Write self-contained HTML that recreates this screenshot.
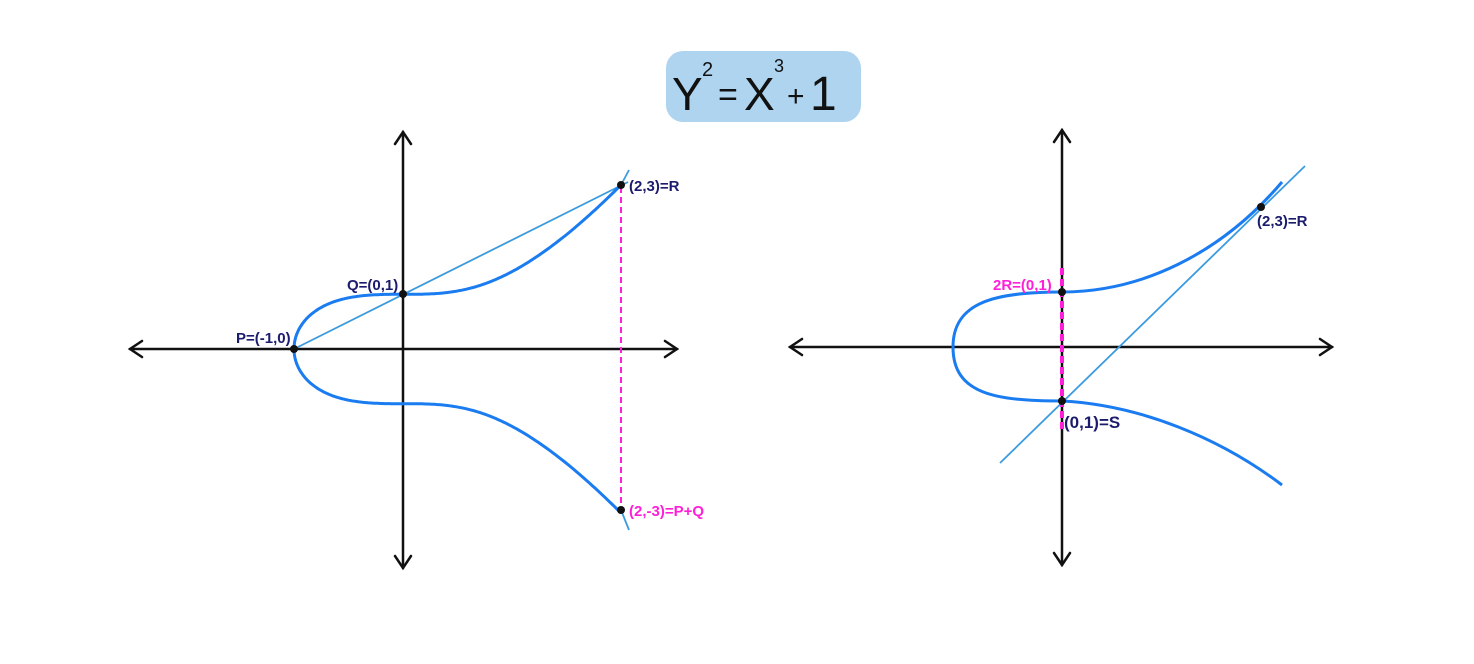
<!DOCTYPE html>
<html><head><meta charset="utf-8"><style>
body{margin:0;background:#fff;}
svg{display:block}
text{font-family:"Liberation Sans",sans-serif;}
</style></head><body>
<svg id="s" width="1474" height="664" xmlns="http://www.w3.org/2000/svg">
<rect x="666" y="51" width="195" height="71" rx="17" fill="#aed4f0"/>
<text x="672" y="110" font-size="46" fill="#111">Y</text>
<text x="702" y="76" font-size="20" fill="#111">2</text>
<text x="718" y="106" font-size="34" fill="#111">=</text>
<text x="744" y="110" font-size="46" fill="#111">X</text>
<text x="774" y="72" font-size="18" fill="#111">3</text>
<text x="787" y="106" font-size="30" fill="#111">+</text>
<text x="810" y="110" font-size="48" fill="#111">1</text>
<g stroke="#111" stroke-width="2.5" fill="none" stroke-linecap="round">
<line x1="130" y1="349" x2="677" y2="349"/><polyline points="142,341 130,349 142,357"/><polyline points="665,341 677,349 665,357"/>
<line x1="403" y1="132" x2="403" y2="568"/><polyline points="395,144 403,132 411,144"/><polyline points="395,556 403,568 411,556"/>
<line x1="790" y1="347" x2="1332" y2="347"/><polyline points="802,339 790,347 802,355"/><polyline points="1320,339 1332,347 1320,355"/>
<line x1="1062" y1="130" x2="1062" y2="565"/><polyline points="1054,142 1062,130 1070,142"/><polyline points="1054,553 1062,565 1070,553"/>
</g>
<line x1="621" y1="187" x2="621" y2="508" stroke="#ff1fd8" stroke-width="2" stroke-dasharray="6,4"/>
<line x1="1062" y1="268" x2="1062" y2="432" stroke="#ff1fd8" stroke-width="4" stroke-dasharray="7,4"/>
<line x1="294" y1="349" x2="628" y2="182" stroke="#3b9be0" stroke-width="1.8"/>
<line x1="1000" y1="463" x2="1305" y2="166" stroke="#3b9be0" stroke-width="1.8"/>
<line x1="621" y1="185" x2="629" y2="170" stroke="#3b9be0" stroke-width="1.8"/>
<line x1="621" y1="510" x2="629" y2="530" stroke="#3b9be0" stroke-width="1.8"/>
<path id="L" fill="none" stroke="#1a7cf0" stroke-width="3"/>
<path d="M953,347 C953,302 995,292 1062,292 C1140,292 1220,255 1282,182" fill="none" stroke="#1a7cf0" stroke-width="3"/>
<path d="M953,347 C953,394 995,401 1062,401 C1140,405 1220,438 1282,485" fill="none" stroke="#1a7cf0" stroke-width="3"/>
<g fill="#111"><circle cx="294" cy="349" r="4"/><circle cx="403" cy="294" r="4"/><circle cx="621" cy="185" r="4"/><circle cx="621" cy="510" r="4"/>
<circle cx="1062" cy="292" r="4"/><circle cx="1062" cy="401" r="4"/><circle cx="1261" cy="207" r="4"/></g>
<g font-size="15" fill="#1c1c6e" font-weight="bold">
<text x="236" y="343">P=(-1,0)</text><text x="347" y="290">Q=(0,1)</text><text x="629" y="191">(2,3)=R</text>
<text x="1257" y="226">(2,3)=R</text><text x="1064" y="428" font-size="17">(0,1)=S</text></g>
<g font-size="15" fill="#ff1fd8" font-weight="bold">
<text x="629" y="516">(2,-3)=P+Q</text><text x="993" y="290">2R=(0,1)</text></g>
</svg>
<script>
function curve(ox,oy,ux,uy,xmax){var t=[],b=[];for(var i=0;i<=200;i++){var x=-1+(xmax+1)*Math.pow(i/200,2);var y=Math.sqrt(Math.max(0,x*x*x+1));t.push((ox+ux*x).toFixed(1)+","+(oy-uy*y).toFixed(1));b.push((ox+ux*x).toFixed(1)+","+(oy+uy*y).toFixed(1));}
return "M"+t.reverse().join(" L")+" L"+b.slice(1).join(" L");}
document.getElementById("L").setAttribute("d",curve(403,349,109,54.7,2.0));
</script>
</body></html>
